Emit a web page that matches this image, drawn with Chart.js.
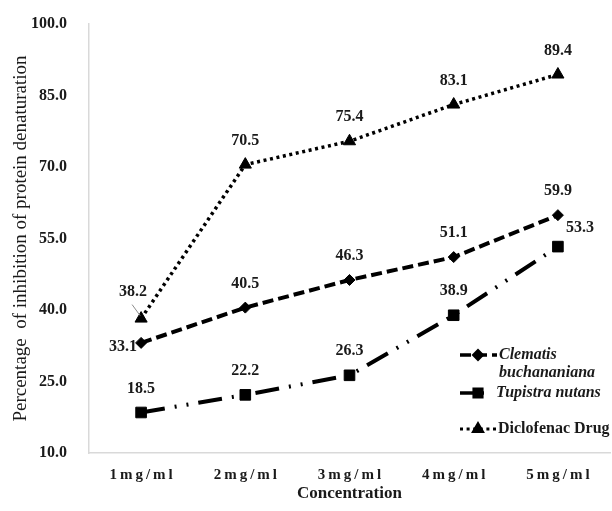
<!DOCTYPE html>
<html>
<head>
<meta charset="utf-8">
<script src="https://cdn.jsdelivr.net/npm/chart.js@4.4.0/dist/chart.umd.min.js"></script>
<style>
  html, body { margin: 0; padding: 0; background: #fff; }
  #wrap { width: 612px; height: 511px; }
</style>
</head>
<body>
<div id="wrap"><canvas id="canvas_chart"></canvas></div>
<script>
var categories = ['1mg/ml', '2mg/ml', '3mg/ml', '4mg/ml', '5mg/ml'];
var clematis = [33.1, 40.5, 46.3, 51.1, 59.9];
var tupistra = [18.5, 22.2, 26.3, 38.9, 53.3];
var diclofenac = [38.2, 70.5, 75.4, 83.1, 89.4];
var yMin = 10, yMax = 100, yStep = 15;

// where each value label sits relative to its point
var labelSpots = [
    ['left', 'above', 'above', 'above', 'above'],
    ['above', 'above', 'above', 'above', 'right'],
    ['leader', 'above', 'above', 'above', 'above']
];

var serif = '"Liberation Serif", "Times New Roman", serif';
var ink = '#1a1a1a';

var valueLabels = {
    id: 'valueLabels',
    afterDatasetsDraw(chart) {
        let ctx = chart.ctx;
        ctx.save();
        ctx.font = 'bold 16px ' + serif;
        ctx.fillStyle = ink;
        ctx.textBaseline = 'middle';
        chart.data.datasets.forEach((ds, di) => {
            chart.getDatasetMeta(di).data.forEach((pt, i) => {
                let spot = labelSpots[di][i];
                let x = pt.x, y = pt.y - 24, align = 'center';
                if (spot == 'left') { x = pt.x - 4; y = pt.y + 4; align = 'right'; }
                if (spot == 'right') { x = pt.x + 8; y = pt.y - 19; align = 'left'; }
                if (spot == 'leader') {
                    x = pt.x - 8; y = pt.y - 27;
                    ctx.strokeStyle = '#8c8c8c';
                    ctx.lineWidth = 1;
                    ctx.beginPath();
                    ctx.moveTo(pt.x - 9, pt.y - 14);
                    ctx.lineTo(pt.x - 1, pt.y - 3);
                    ctx.stroke();
                }
                ctx.textAlign = align;
                ctx.fillText(ds.data[i].toFixed(1), x, y);
            });
        });
        ctx.restore();
    }
};

// x tick labels are drawn here so they can get the wide letter spacing
var xTickLabels = {
    id: 'xTickLabels',
    afterDraw(chart) {
        let ctx = chart.ctx, xs = chart.scales.x;
        ctx.save();
        ctx.font = 'bold 15px ' + serif;
        ctx.fillStyle = ink;
        ctx.textAlign = 'center';
        ctx.textBaseline = 'middle';
        ctx.letterSpacing = '3px';
        categories.forEach((c, i) => {
            ctx.fillText(c, xs.getPixelForValue(i) + 1.5, chart.chartArea.bottom + 22);
        });
        ctx.restore();
    }
};

var legendBox = {
    id: 'legendBox',
    afterDraw(chart) {
        let ctx = chart.ctx, area = chart.chartArea;
        let x0 = area.right - 150;
        let rows = [
            { ds: 0, y: area.bottom - 98, len: 37, text: ['Clematis', 'buchananiana'], font: 'italic bold 16px ' },
            { ds: 1, y: area.bottom - 60, len: 34, text: ['Tupistra nutans'], font: 'italic bold 16px ' },
            { ds: 2, y: area.bottom - 24, len: 36, text: ['Diclofenac Drug'], font: 'bold 16px ' }
        ];
        rows.forEach(r => {
            let ds = chart.data.datasets[r.ds];
            ctx.save();
            ctx.strokeStyle = ds.borderColor;
            ctx.lineWidth = ds.borderWidth - 0.5;
            ctx.setLineDash(ds.borderDash);
            ctx.beginPath();
            ctx.moveTo(x0, r.y);
            ctx.lineTo(x0 + r.len, r.y);
            ctx.stroke();
            ctx.setLineDash([]);
            ctx.fillStyle = '#000';
            Chart.helpers.drawPoint(ctx, {
                pointStyle: ds.pointStyle, radius: ds.pointRadius * 0.72, borderWidth: 1, rotation: 0
            }, x0 + 18, r.y);
            ctx.fillStyle = ink;
            ctx.font = r.font + serif;
            ctx.textAlign = 'left';
            ctx.textBaseline = 'middle';
            r.text.forEach((t, k) => ctx.fillText(t, x0 + r.len + 2, r.y + k * 18));
            ctx.restore();
        });
    }
};

new Chart('canvas_chart', {
    type: 'line',
    data: {
        labels: categories,
        datasets: [{
            label: 'Clematis buchananiana',
            data: clematis,
            borderColor: '#000',
            backgroundColor: '#000',
            borderWidth: 4,
            borderDash: [11, 5],
            pointStyle: 'rectRot',
            pointRadius: 5.5,
            pointBorderWidth: 1
        }, {
            label: 'Tupistra nutans',
            data: tupistra,
            borderColor: '#000',
            backgroundColor: '#000',
            borderWidth: 4,
            borderDash: [24, 10, 2, 10, 2, 10],
            pointStyle: 'rect',
            pointRadius: 7.5,
            pointBorderWidth: 1
        }, {
            label: 'Diclofenac Drug',
            data: diclofenac,
            borderColor: '#000',
            backgroundColor: '#000',
            borderWidth: 3.5,
            borderDash: [3, 3.6],
            pointStyle: 'triangle',
            pointRadius: 7,
            pointBorderWidth: 1
        }]
    },
    options: {
        responsive: true,
        maintainAspectRatio: false,
        animation: false,
        layout: { autoPadding: false, padding: { top: 24, right: 2, left: 0, bottom: 0 } },
        plugins: {
            legend: { display: false },
            tooltip: { enabled: false }
        },
        elements: { line: { tension: 0 } },
        scales: {
            x: {
                offset: true,
                grid: { display: false, offset: true },
                border: { display: true, color: '#d9d9d9', width: 1.5 },
                ticks: { display: false },
                afterFit: scale => { scale.height = 58; },
                title: {
                    display: true,
                    text: 'Concentration',
                    color: ink,
                    font: { family: serif, size: 17, weight: 'bold' },
                    padding: { top: 0, bottom: 7 }
                }
            },
            y: {
                min: yMin,
                max: yMax,
                grid: { display: false },
                border: { display: true, color: '#d9d9d9', width: 1.5 },
                ticks: {
                    stepSize: yStep,
                    padding: 14,
                    color: ink,
                    font: { family: serif, size: 16, weight: 'bold' },
                    callback: v => v.toFixed(1)
                },
                afterFit: scale => { scale.width = 89; },
                title: {
                    display: true,
                    text: 'Percentage  of inhibition of protein denaturation',
                    color: ink,
                    font: { family: serif, size: 19, weight: 'normal' },
                    padding: { top: 10, bottom: 0 }
                }
            }
        }
    },
    plugins: [valueLabels, xTickLabels, legendBox]
});
</script>
</body>
</html>
